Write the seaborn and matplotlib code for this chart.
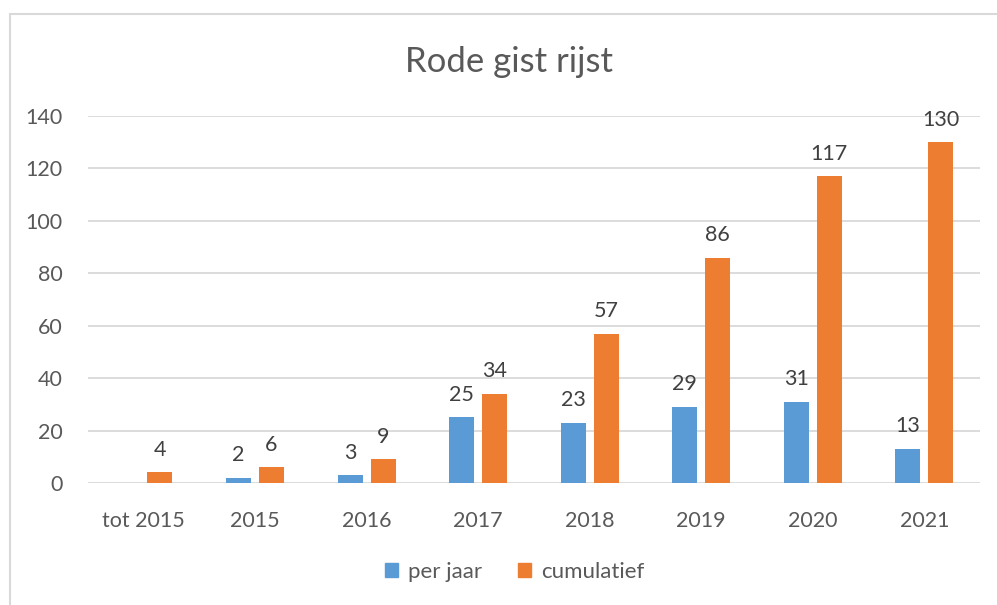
import pandas as pd
import numpy as np
import matplotlib.pyplot as plt
import seaborn as sns
from matplotlib.patches import Rectangle

jaren = ['tot 2015', '2015', '2016', '2017', '2018', '2019', '2020', '2021']
per_jaar = [np.nan, 2, 3, 25, 23, 29, 31, 13]
cumulatief = [4, 6, 9, 34, 57, 86, 117, 130]
reeksen = ['per jaar', 'cumulatief']
kleuren = ['#5B9BD5', '#ED7D31']

rows = []
for j, p, c in zip(jaren, per_jaar, cumulatief):
    if not np.isnan(p):
        rows.append({'jaar': j, 'reeks': 'per jaar', 'waarde': p})
    rows.append({'jaar': j, 'reeks': 'cumulatief', 'waarde': c})
df = pd.DataFrame(rows)

sns.set_style('white')
plt.rcParams['font.family'] = ['Lato', 'DejaVu Sans']

fig = plt.figure(figsize=(9.97, 6.05), dpi=100)
ax = fig.add_axes([0.088, 0.2017, 0.895, 0.6066])

sns.barplot(data=df, x='jaar', y='waarde', hue='reeks', order=jaren,
            hue_order=reeksen, palette=kleuren, saturation=1, width=0.59,
            gap=0.24, ax=ax, legend=False, edgecolor='none')

for cont in ax.containers:
    ax.bar_label(cont, fmt='%g', padding=9, fontsize=15.5, color='#404040')

ax.set_ylim(0, 140)
ax.set_yticks(range(0, 141, 20))
ax.set_xlim(-0.5, 7.5)
ax.yaxis.grid(True, color='#D9D9D9', linewidth=1.3)
ax.set_axisbelow(True)
for s in ax.spines.values():
    s.set_visible(False)
ax.tick_params(axis='both', length=0, labelsize=15.5, labelcolor='#595959')
ax.tick_params(axis='y', pad=18)
ax.tick_params(axis='x', pad=20)
ax.set_xlabel('')
ax.set_ylabel('')

fig.text(0.511, 0.898, 'Rode gist rijst', ha='center', va='center',
         fontsize=25, color='#595959')

handles = [Rectangle((0, 0), 1, 1, color=k) for k in kleuren]
fig.legend(handles, reeksen, loc='center', bbox_to_anchor=(0.516, 0.055),
           ncol=2, frameon=False, fontsize=16, handlelength=0.6,
           handleheight=0.6, handletextpad=0.45, columnspacing=1.6,
           labelcolor='#595959')

fig.patches.append(Rectangle((10 / 997, -0.1), 1.2, 1 - 14 / 605 + 0.1,
                             transform=fig.transFigure, fill=False,
                             edgecolor='#D9D9D9', linewidth=1.5))

fig.savefig('out.png', dpi=100)
